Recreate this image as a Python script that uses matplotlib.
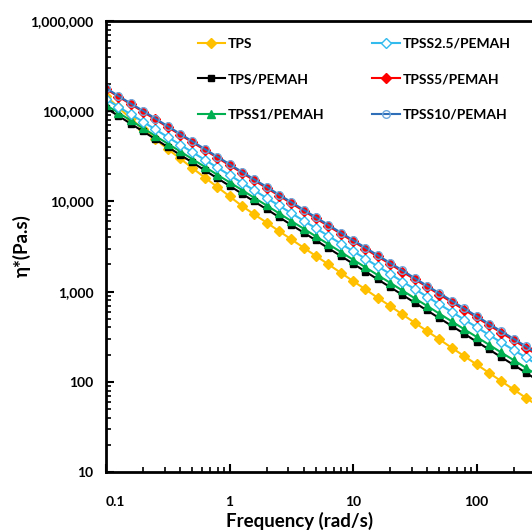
import numpy as np
import matplotlib
matplotlib.use('Agg')
import matplotlib.pyplot as plt
from matplotlib.ticker import FuncFormatter, LogLocator, NullFormatter

plt.rcParams['font.family'] = ['Lato', 'DejaVu Sans']
plt.rcParams['font.weight'] = 'bold'

# Data
freq = [0.1, 0.126, 0.158, 0.2, 0.251, 0.316, 0.398, 0.501, 0.631, 0.794,
        1, 1.26, 1.58, 2, 2.51, 3.16, 3.98, 5.01, 6.31, 7.94,
        10, 12.6, 15.8, 20, 25.1, 31.6, 39.8, 50.1, 63.1, 79.4,
        100, 126, 158, 200, 251, 316]

tps = [148000, 110000, 83200, 63100, 49000, 38000, 29900, 23400, 18400, 14500,
       11400, 8910, 7200, 5820, 4700, 3800, 3070, 2480, 2010, 1620,
       1310, 1060, 856, 692, 559, 452, 365, 295, 238, 193,
       156, 126, 102, 82.2, 66.4, 53.7]

tps_pemah = [108000, 88900, 72800, 59700, 49000, 40100, 32900, 27000, 22100, 18100,
             14900, 12200, 9990, 8190, 6710, 5500, 4510, 3700, 3030, 2490,
             2040, 1670, 1370, 1120, 920, 754, 618, 507, 416, 341,
             279, 229, 188, 154, 126, 103]

tpss1 = [117000, 96200, 79000, 64900, 53200, 43700, 35900, 29400, 24200, 19800,
         16300, 13400, 11000, 9010, 7400, 6070, 4990, 4090, 3360, 2760,
         2260, 1860, 1530, 1250, 1030, 844, 693, 569, 467, 383,
         315, 258, 212, 174, 143, 117]

tpss25 = [136000, 112000, 92600, 76200, 62800, 51700, 42600, 35100, 28900, 23800,
          19600, 16100, 13300, 10900, 9010, 7420, 6110, 5030, 4150, 3410,
          2810, 2320, 1910, 1570, 1290, 1070, 877, 723, 595, 490,
          404, 332, 274, 225, 186, 153]

tpss5 = [176000, 145000, 120000, 98400, 81000, 66700, 54900, 45200, 37200, 30600,
         25200, 20800, 17100, 14100, 11600, 9550, 7860, 6480, 5330, 4390,
         3610, 2980, 2450, 2020, 1660, 1370, 1130, 927, 763, 629,
         518, 426, 351, 289, 238, 196]

tpss10 = [180000, 148000, 122000, 101000, 82900, 68200, 56200, 46300, 38100, 31400,
          25900, 21300, 17600, 14500, 11900, 9820, 8090, 6660, 5490, 4520,
          3720, 3070, 2530, 2080, 1720, 1410, 1160, 959, 790, 651,
          536, 441, 364, 300, 247, 203]

xticks = [0.1, 1, 10, 100]

fig = plt.figure(figsize=(5.32, 5.32), dpi=100)
# axes run on past the right edge of the picture (cropped like the reference)
ax = fig.add_axes([106/532, 60/532, 494/532, 451/532])

ax.plot(freq, tps, '-D', color='#FFC000', ms=5, lw=1.5, label='TPS')
ax.plot(freq, tps_pemah, '-s', color='black', ms=5, lw=1.5, label='TPS/PEMAH')
ax.plot(freq, tpss1, '-^', color='#00B050', ms=6, lw=1.5, label='TPSS1/PEMAH')
ax.plot(freq, tpss25, '-D', color='#33BBEE', mfc='white', mec='#33BBEE', ms=5,
        lw=1.5, label='TPSS2.5/PEMAH')
ax.plot(freq, tpss5, '-D', color='#FF0000', ms=5, lw=1.5, label='TPSS5/PEMAH')
ax.plot(freq, tpss10, '-o', color='#2E6DB8', mfc='none', mec='#6FA8DC', ms=5.5,
        lw=1.5, label='TPSS10/PEMAH')

ax.set_xscale('log')
ax.set_yscale('log')
ax.set_xlim(0.1, 1000)
ax.set_ylim(10, 1e6)

ax.yaxis.set_major_locator(LogLocator(base=10))
ax.yaxis.set_minor_locator(LogLocator(base=10, subs=np.arange(2, 10)))
ax.yaxis.set_minor_formatter(NullFormatter())
ax.yaxis.set_major_formatter(FuncFormatter(lambda v, p: f'{v:,.0f}'))
ax.set_xticks(xticks)
ax.xaxis.set_minor_locator(LogLocator(base=10, subs=np.arange(2, 10)))
ax.xaxis.set_minor_formatter(NullFormatter())
ax.xaxis.set_major_formatter(FuncFormatter(lambda v, p: f'{v:g}'))

ax.tick_params(which='major', direction='in', length=6, width=1.5, labelsize=10)
ax.tick_params(which='minor', direction='in', length=3.5, width=1.2)
ax.tick_params(axis='y', which='major', pad=9)
ax.tick_params(axis='x', which='major', pad=17)
for lab in ax.get_xticklabels() + ax.get_yticklabels():
    lab.set_fontweight('bold')
ax.get_xticklabels()[0].set_horizontalalignment('left')
for s in ax.spines.values():
    s.set_linewidth(2)

fig.text(22/532, 1 - 246/532, 'η*(Pa.s)', rotation=90, ha='center', va='center',
         fontsize=13.5, fontweight='bold')
fig.text(300/532, 1 - 521/532, 'Frequency (rad/s)', ha='center', va='center',
         fontsize=13.5, fontweight='bold')

fig.legend(loc='upper left', bbox_to_anchor=(192/532, 1 - 32/532), ncol=2,
           frameon=False, handlelength=2, handletextpad=0.2,
           columnspacing=3.4, labelspacing=1.7, borderaxespad=0,
           prop={'weight': 'bold', 'size': 10})

fig.savefig('out.png', dpi=100)
